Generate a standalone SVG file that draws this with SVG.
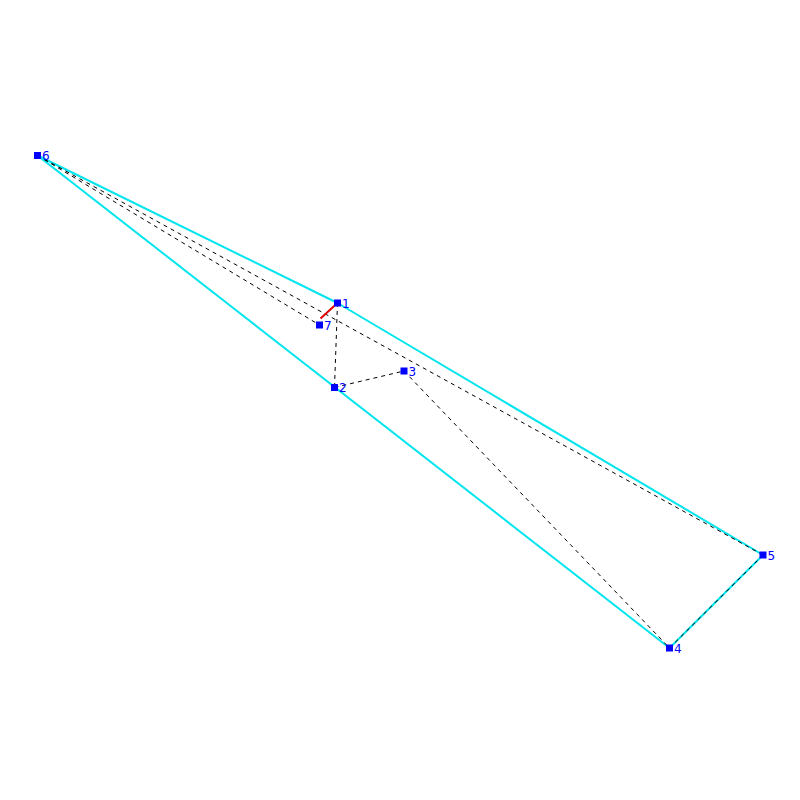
<svg xmlns="http://www.w3.org/2000/svg" width="800" height="800" viewBox="0 0 800 800">
<style>
.hull{stroke:#00e5ee;stroke-width:2;fill:none}
.dash{stroke:#000;stroke-width:1;stroke-dasharray:4,4;fill:none}
.red{stroke:#e00000;stroke-width:2;fill:none}
.pt{fill:#0000ff}
.lbl{fill:#0000ff;font-family:"DejaVu Sans",sans-serif;font-size:12px}
</style>
<rect width="800" height="800" fill="#fff"/>
<g id="connectors">
<line class="hull" x1="37.5" y1="155.5" x2="337.5" y2="303"/>
<line class="hull" x1="337.5" y1="303" x2="763" y2="555"/>
<line class="hull" x1="763" y1="555" x2="669.5" y2="648"/>
<line class="hull" x1="669.5" y1="648" x2="37.5" y2="155.5"/>
<line class="dash" x1="37.5" y1="155.5" x2="319.5" y2="325"/>
<line class="dash" x1="37.5" y1="155.5" x2="763" y2="555"/>
<line class="dash" x1="337.5" y1="303" x2="334.5" y2="387.5"/>
<line class="dash" x1="334.5" y1="387.5" x2="404" y2="371"/>
<line class="dash" x1="404" y1="371" x2="669.5" y2="648"/>
<line class="dash" x1="669.5" y1="648" x2="763" y2="555"/>
<line class="red" x1="337.5" y1="303" x2="320.5" y2="318.5"/>
</g>
<g id="node1"><rect class="pt" x="334" y="299.5" width="7" height="7"/><text class="lbl" x="342" y="307.5">1</text></g>
<g id="node2"><rect class="pt" x="331" y="384" width="7" height="7"/><text class="lbl" x="339" y="392">2</text></g>
<g id="node3"><rect class="pt" x="400.5" y="367.5" width="7" height="7"/><text class="lbl" x="408.5" y="375.5">3</text></g>
<g id="node4"><rect class="pt" x="666" y="644.5" width="7" height="7"/><text class="lbl" x="674" y="652.5">4</text></g>
<g id="node5"><rect class="pt" x="759.5" y="551.5" width="7" height="7"/><text class="lbl" x="767.5" y="559.5">5</text></g>
<g id="node6"><rect class="pt" x="34" y="152" width="7" height="7"/><text class="lbl" x="42" y="160">6</text></g>
<g id="node7"><rect class="pt" x="316" y="321.5" width="7" height="7"/><text class="lbl" x="324" y="329.5">7</text></g>
</svg>
